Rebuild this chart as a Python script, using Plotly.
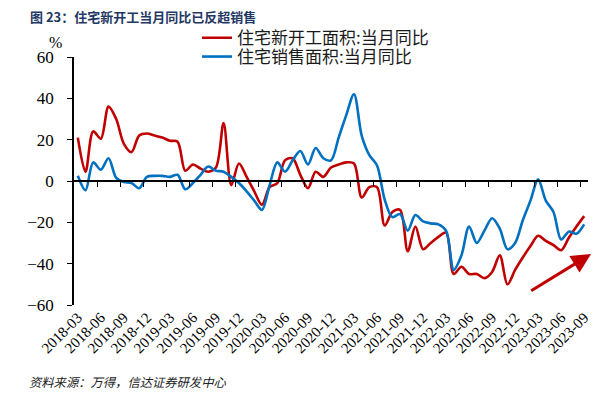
import pandas as pd
import plotly.graph_objects as go

# ---- data ----
months = [p.strftime("%Y-%m") for p in pd.period_range("2018-03", "2023-09", freq="M")]

new_start_yoy = [21, 4.5, 24, 20.5, 36, 30, 18, 14, 22, 23,
                 22, 21, 19.5, 19, 5, 8, 6, 4.5, 6.5, 28,
                 -2, 8.5, 2, -5, -11.5, -3, -1, 10, 11, 3,
                 -3.5, 4.5, 2, 6.5, 8, 9, 8.5, -8, -3, -3,
                 -21.5, -15, -14, -34, -22, -33, -30, -27, -25, -45,
                 -41.5, -45, -45, -47, -44, -36, -50, -43, -37, -31.5,
                 -26.5, -29, -31, -33.5, -27.5, -22, -17]

sales_yoy = [2.5, -4.5, 9, 5.5, 11, 1.5, -0.5, -1, -3.5, 2,
             2.5, 2.5, 2, 3, -4, -1, 3, 7, 5, 4.5,
             2, -1, -5, -9.5, -14, -2, 9, 4.5, 10, 14.5,
             8, 16, 11, 10, 21, 32, 42, 22, 12.5, 7.5,
             -9, -17.5, -16, -24, -16.5, -19.5, -20.5, -21, -24, -43,
             -36, -22, -30, -24, -18, -23, -33, -30, -19, -9.5,
             0.8, -9.5, -15, -28.3, -24.5, -25.5, -21]

tick_labels = ["2018-03", "2018-06", "2018-09", "2018-12", "2019-03", "2019-06",
               "2019-09", "2019-12", "2020-03", "2020-06", "2020-09", "2020-12",
               "2021-03", "2021-06", "2021-09", "2021-12", "2022-03", "2022-06",
               "2022-09", "2022-12", "2023-03", "2023-06", "2023-09"]

y_ticks = [-60, -40, -20, 0, 20, 40, 60]

series_names = ["住宅新开工面积:当月同比", "住宅销售面积:当月同比"]
series_colors = ["#C00000", "#0070C0"]

# arrow annotation (data units: month index, %)
arrow_start = (58.9, -53.6)
arrow_end = (66.9, -35.3)

# ---- layout geometry (page pixels; page body has an 8px margin) ----
OFF = 8
W, H = 603 - OFF, 395 - OFF
PL, PR, PT, PB = 74, 588, 55, 305          # plot area in page pixels


def px_x(px):
    return (px - PL) / (PR - PL)


def px_y(py):
    return (PB - py) / (PB - PT)


n = len(months)
boundary_ticks = [i * 3 - 0.5 for i in range(1, n // 3 + 1)]

serif = "Liberation Serif, Times New Roman, serif"
cjk = "Noto Sans CJK SC, sans-serif"

fig = go.Figure()
legend_ids = ["legend", "legend2"]
for name, vals, col, lg in zip(series_names, [new_start_yoy, sales_yoy],
                               series_colors, legend_ids):
    fig.add_trace(go.Scatter(
        x=months, y=vals, name=name, mode="lines", legend=lg,
        line=dict(color=col, width=2.6, shape="spline", smoothing=0.9),
    ))

# helper trace to carry the zero-line axis with boundary tick marks
fig.add_trace(go.Scatter(x=[0], y=[0], xaxis="x2", mode="lines",
                         showlegend=False, hoverinfo="skip",
                         line=dict(color="rgba(0,0,0,0)")))

legend_style = dict(xanchor="left", yanchor="middle",
                    font=dict(family=cjk, size=17, color="#1a1a1a"),
                    bgcolor="rgba(0,0,0,0)", itemwidth=30)

fig.update_layout(
    width=W, height=H,
    margin=dict(l=PL - OFF, r=W - (PR - OFF), t=PT - OFF, b=H - (PB - OFF)),
    paper_bgcolor="white", plot_bgcolor="white",
    showlegend=True,
    legend=dict(x=px_x(197), y=px_y(36), **legend_style),
    legend2=dict(x=px_x(197), y=px_y(55), **legend_style),
    title=dict(text="<b>图 23：住宅新开工当月同比已反超销售</b>",
               x=(30 - OFF) / W, xanchor="left", xref="container",
               y=1 - (17 - OFF) / H, yanchor="middle", yref="container",
               font=dict(family=cjk, size=13, color="#1F3864")),
    xaxis=dict(type="category", range=[-0.5, n - 0.5],
               tickmode="array", tickvals=tick_labels, ticktext=tick_labels,
               tickangle=-45, showline=False, ticks="", showgrid=False,
               zeroline=False,
               tickfont=dict(family=serif, size=15, color="black")),
    xaxis2=dict(overlaying="x", anchor="free", position=0.5, side="bottom",
                range=[-0.5, n - 0.5], showline=True, linecolor="black",
                linewidth=1.5, ticks="outside", ticklen=5, tickwidth=1.2,
                tickcolor="black", tickmode="array", tickvals=boundary_ticks,
                showticklabels=False, showgrid=False, zeroline=False),
    yaxis=dict(range=[-60, 60], tickmode="array", tickvals=y_ticks,
               showline=True, linecolor="black", linewidth=1.5,
               ticks="outside", ticklen=5, tickwidth=1.2, tickcolor="black",
               ticklabelstandoff=10,
               showgrid=False, zeroline=False,
               tickfont=dict(family=serif, size=17, color="black")),
    annotations=[
        dict(text="%", xref="paper", yref="paper",
             x=px_x(55), y=px_y(40),
             xanchor="center", yanchor="middle", showarrow=False,
             font=dict(family=serif, size=16, color="black")),
        dict(text="<i>资料来源：万得，信达证券研发中心</i>", xref="paper", yref="paper",
             x=px_x(27), y=px_y(383),
             xanchor="left", yanchor="middle", showarrow=False,
             font=dict(family=cjk, size=12.3, color="#222222")),
        dict(x=arrow_end[0], y=arrow_end[1], ax=arrow_start[0], ay=arrow_start[1],
             xref="x", yref="y", axref="x", ayref="y", text="",
             showarrow=True, arrowhead=2, arrowsize=1.3, arrowwidth=3,
             arrowcolor="#C00000"),
    ],
)

fig.write_html("out.html")
